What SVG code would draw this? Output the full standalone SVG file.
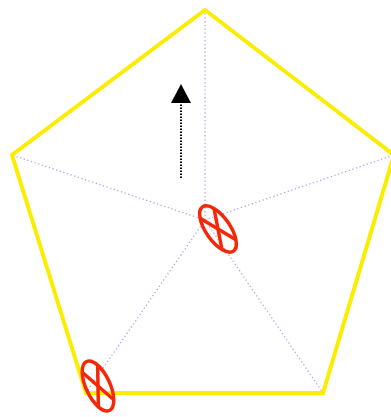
<svg xmlns="http://www.w3.org/2000/svg" width="391" height="417" viewBox="0 0 391 417">
<style>
.spoke{stroke:#c29af2;stroke-width:1.3;stroke-dasharray:1.3 2.5;fill:none}
.pent{fill:none;stroke:#fbec00;stroke-width:4;stroke-linejoin:miter}
.sym{fill:none;stroke:#f42806;stroke-width:3.5}
</style>
<defs>
<g id="xsym">
<ellipse cx="0" cy="0" rx="12" ry="27"/>
<line x1="-8.5" y1="-19.1" x2="8.5" y2="19.1"/>
<line x1="8.5" y1="-19.1" x2="-8.5" y2="19.1"/>
</g>
</defs>
<rect width="391" height="417" fill="#fff"/>
<g id="connectors">
<g class="spoke">
<line x1="205" y1="220" x2="205" y2="10"/>
<line x1="205" y1="220" x2="12" y2="155"/>
<line x1="205" y1="220" x2="394" y2="155"/>
<line x1="205" y1="220" x2="323" y2="393"/>
<line x1="205" y1="220" x2="86" y2="393"/>
</g>
<g id="arrow">
<line x1="181" y1="178" x2="181" y2="103" stroke="#000" stroke-width="2" stroke-dasharray="1.5 1.5"/>
<polygon points="181,84 191,103 171,103" fill="#000"/>
</g>
</g>
<g id="pentagon">
<polygon class="pent" points="205,10 394,155 323,393 86,393 12,155"/>
</g>
<g id="node-center" class="sym">
<use href="#xsym" transform="translate(218,229) rotate(-35)"/>
</g>
<g id="node-corner" class="sym">
<use href="#xsym" transform="translate(98,386) rotate(-25)"/>
</g>
</svg>
